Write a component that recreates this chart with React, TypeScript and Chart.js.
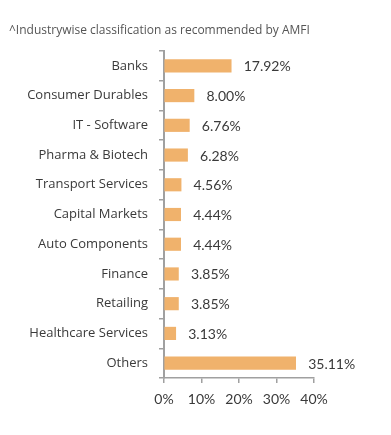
import React, { useEffect, useRef } from "react";
import { Chart, registerables } from "chart.js";

Chart.register(...registerables);

const titleText = "^Industrywise classification as recommended by AMFI";
const categories = [
  "Banks",
  "Consumer Durables",
  "IT - Software",
  "Pharma & Biotech",
  "Transport Services",
  "Capital Markets",
  "Auto Components",
  "Finance",
  "Retailing",
  "Healthcare Services",
  "Others",
];
const values = [17.92, 8.0, 6.76, 6.28, 4.56, 4.44, 4.44, 3.85, 3.85, 3.13, 35.11];
const xTicks = [0, 10, 20, 30, 40];

const barColor = "#F0B26C";
const axisColor = "#A0A0A0";
const textColor = "#3a3a3a";

const labelsPlugin = {
  id: "customLabels",
  afterDraw(chart: any) {
    const ctx = chart.ctx;
    ctx.save();
    // title
    ctx.font = "12px 'Open Sans', sans-serif";
    ctx.fillStyle = "#555555";
    ctx.textAlign = "left";
    ctx.textBaseline = "middle";
    ctx.fillText(titleText, 1, 23);
    // value labels
    const meta = chart.getDatasetMeta(0);
    ctx.font = "14px Lato, sans-serif";
    ctx.fillStyle = textColor;
    meta.data.forEach((bar: any, i: number) => {
      const v = values[i];
      ctx.fillText(v.toFixed(2) + "%", bar.x + 12.5, bar.y + 1);
    });
    ctx.restore();
  },
};

export default function App() {
  const ref = useRef<HTMLCanvasElement | null>(null);
  useEffect(() => {
    if (!ref.current) return;
    const chart = new Chart(ref.current, {
      type: "bar",
      data: {
        labels: categories,
        datasets: [
          {
            data: values,
            backgroundColor: barColor,
            borderWidth: 0,
            barThickness: 12.5,
          },
        ],
      },
      options: {
        indexAxis: "y",
        animation: false,
        responsive: false,
        maintainAspectRatio: false,
        layout: { padding: { top: 43, right: 69, left: 0, bottom: 0 } },
        plugins: {
          legend: { display: false },
          tooltip: { enabled: false },
          title: { display: false },
        },
        scales: {
          x: {
            min: 0,
            max: 40,
            afterBuildTicks(scale: any) {
              scale.ticks = xTicks.map((v) => ({ value: v }));
            },
            afterFit(scale: any) {
              scale.height = 49;
            },
            border: { display: true, color: axisColor, width: 1.5 },
            grid: {
              drawOnChartArea: false,
              drawTicks: true,
              tickLength: 5,
              color: axisColor,
              lineWidth: 1.5,
            },
            ticks: {
              callback: (v: any) => v + "%",
              font: { family: "Lato, sans-serif", size: 14 },
              color: textColor,
              padding: 8,
              maxRotation: 0,
              autoSkip: false,
            },
          },
          y: {
            afterFit(scale: any) {
              scale.width = 156;
            },
            border: { display: true, color: axisColor, width: 2 },
            grid: {
              offset: true,
              drawOnChartArea: false,
              drawTicks: true,
              tickLength: 5,
              color: axisColor,
              lineWidth: 1.5,
            },
            ticks: {
              font: { family: "'Open Sans', sans-serif", size: 13 },
              color: textColor,
              padding: 11,
              autoSkip: false,
            },
          },
        },
      },
      plugins: [labelsPlugin],
    });
    return () => chart.destroy();
  }, []);
  return (
    <div style={{ width: 375, height: 419 }}>
      <canvas ref={ref} width={375} height={419} style={{ width: 375, height: 419 }} />
    </div>
  );
}
